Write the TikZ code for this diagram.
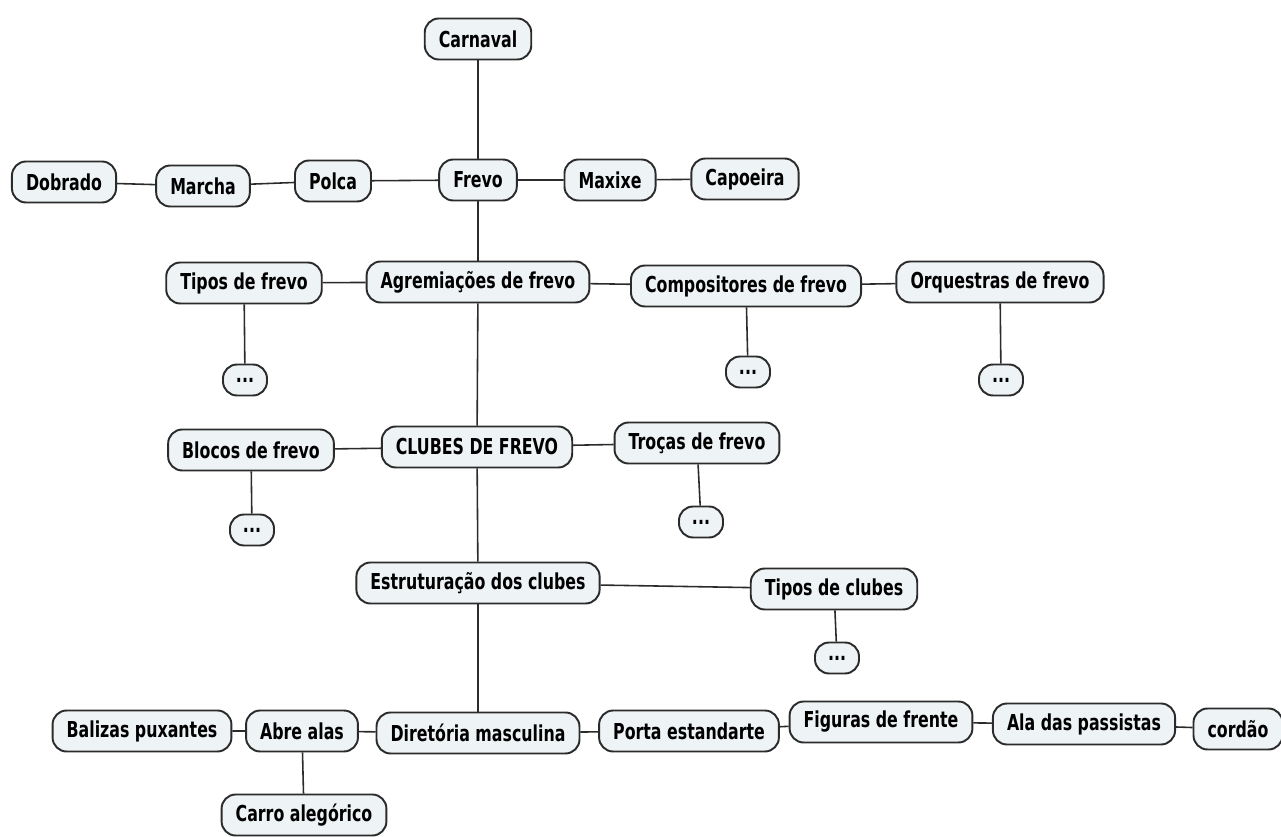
\documentclass[tikz,border=0pt]{standalone}
\usepackage{fontspec}
\setmainfont[FakeStretch=0.72]{DejaVu Sans}
\definecolor{boxfill}{HTML}{EEF3F5}
\definecolor{boxline}{HTML}{2B2B2B}
\tikzset{
  topic/.style={draw=boxline, fill=boxfill, line width=1.1pt, rounded corners=8pt,
    minimum height=0.82cm, inner xsep=8pt, font=\fontsize{12.5}{14}\selectfont\bfseries},
  more/.style={topic, minimum height=0.62cm, minimum width=0.88cm, inner xsep=2pt},
  link/.style={draw=boxline, line width=0.9pt}
}
\begin{document}
\begin{tikzpicture}[x=0.02cm, y=-0.02cm]
        \useasboundingbox[fill=white] (0,0) rectangle (1281,837);
        % nodes
        \node[topic] (carnaval) at (478,39) {Carnaval};
        \node[topic] (dobrado) at (64,182) {Dobrado};
        \node[topic] (marcha) at (203,186) {Marcha};
        \node[topic] (polca) at (333,181) {Polca};
        \node[topic] (frevo) at (478,180) {Frevo};
        \node[topic] (maxixe) at (610,180) {Maxixe};
        \node[topic] (capoeira) at (745,179) {Capoeira};
        \node[topic] (tipos) at (244,283) {Tipos de frevo};
        \node[topic] (agrem) at (478,282) {Agremiações de frevo};
        \node[topic] (compos) at (746,286) {Compositores de frevo};
        \node[topic] (orq) at (1000,282) {Orquestras de frevo};
        \node[more] (tiposm) at (245,380) {...};
        \node[more] (composm) at (748,372) {...};
        \node[more] (orqm) at (1001,380) {...};
        \node[topic] (blocos) at (251,450) {Blocos de frevo};
        \node[topic] (clubes) at (477,447) {CLUBES DE FREVO};
        \node[topic] (trocas) at (697,443) {Troças de frevo};
        \node[more] (blocosm) at (252,530) {...};
        \node[more] (trocasm) at (701,522) {...};
        \node[topic] (estrut) at (478,583) {Estruturação dos clubes};
        \node[topic] (tclubes) at (834,589) {Tipos de clubes};
        \node[more] (tclubesm) at (837,658) {...};
        \node[topic] (balizas) at (142,731) {Balizas puxantes};
        \node[topic] (abre) at (302,731) {Abre alas};
        \node[topic] (diret) at (478,733) {Diretória masculina};
        \node[topic] (porta) at (689,731) {Porta estandarte};
        \node[topic] (figuras) at (881,722) {Figuras de frente};
        \node[topic] (ala) at (1084,724) {Ala das passistas};
        \node[topic] (cordao) at (1238,729) {cordão};
        \node[topic] (carro) at (304,815) {Carro alegórico};
        % edges
        \draw[link] (carnaval) -- (frevo);
        \draw[link] (frevo) -- (polca) (polca) -- (marcha) (marcha) -- (dobrado);
        \draw[link] (frevo) -- (maxixe) (maxixe) -- (capoeira);
        \draw[link] (frevo) -- (agrem);
        \draw[link] (agrem) -- (tipos) (agrem) -- (compos) (compos) -- (orq);
        \draw[link] (tipos) -- (tiposm) (compos) -- (composm) (orq) -- (orqm);
        \draw[link] (agrem) -- (clubes);
        \draw[link] (clubes) -- (blocos) (clubes) -- (trocas);
        \draw[link] (blocos) -- (blocosm) (trocas) -- (trocasm);
        \draw[link] (clubes) -- (estrut);
        \draw[link] (estrut) -- (tclubes) (tclubes) -- (tclubesm);
        \draw[link] (estrut) -- (diret);
        \draw[link] (diret) -- (abre) (abre) -- (balizas) (abre) -- (carro);
        \draw[link] (diret) -- (porta) (porta) -- (figuras) (figuras) -- (ala) (ala) -- (cordao);
      \end{tikzpicture}
\end{document}
